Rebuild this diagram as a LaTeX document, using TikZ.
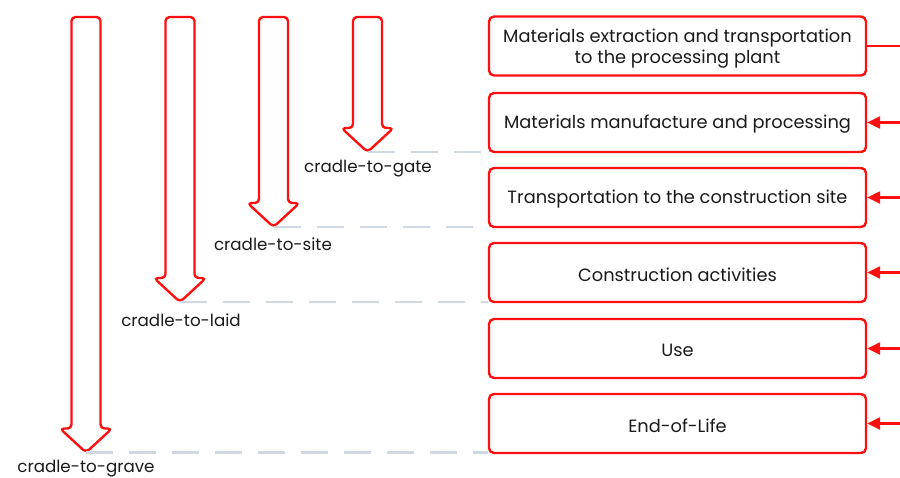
\documentclass[tikz,border=0pt]{standalone}
\usepackage{fontspec}
\setmainfont{Poppins}
\usetikzlibrary{arrows.meta}
\definecolor{redline}{HTML}{FF1010}
\definecolor{dashgrey}{HTML}{CFD7E1}
\definecolor{txt}{HTML}{1A1A1A}
\begin{document}
\begin{tikzpicture}[x=1pt,y=-1pt,
  stage/.style={draw=redline, line width=2.4pt, rounded corners=5pt, minimum width=377pt, minimum height=59pt, inner sep=0pt},
  stagetext/.style={align=center, text=txt, font=\fontsize{17.8}{21.5}\selectfont, inner sep=0pt},
  blockarr/.style={draw=redline, line width=2.4pt, rounded corners=4pt, line join=round},
  scope label/.style={text=txt, font=\fontsize{16.7}{20}\selectfont, inner sep=0pt},
  sep/.style={draw=dashgrey, line width=2.4pt, dash pattern=on 27pt off 16pt},
  feed/.style={draw=redline, line width=2.4pt, -{Triangle[length=13pt,width=12pt]}}
]
\useasboundingbox (0,0) rectangle (900,477);
% stages
\node[stage] (s1) at (677.5,46) {};
\node[stage] (s2) at (677.5,122.5) {};
\node[stage] (s3) at (677.5,197.5) {};
\node[stage] (s4) at (677.5,272.5) {};
\node[stage] (s5) at (677.5,348.5) {};
\node[stage] (s6) at (677.5,423.5) {};
\node[stagetext] (t1) at ([yshift=-2.5pt]s1.center) {Materials extraction and transportation\\to the processing plant};
\node[stagetext] (t2) at ([yshift=-2pt]s2.center) {Materials manufacture and processing};
\node[stagetext] (t3) at ([yshift=-2pt]s3.center) {Transportation to the construction site};
\node[stagetext] (t4) at ([yshift=-2pt]s4.center) {Construction activities};
\node[stagetext] (t5) at ([yshift=-2pt]s5.center) {Use};
\node[stagetext] (t6) at ([yshift=-2pt]s6.center) {End-of-Life};
% right-side feed lines
\coordinate (e1) at (902,46);
\coordinate (e2) at (902,122.5);
\coordinate (e3) at (902,197.5);
\coordinate (e4) at (902,272.5);
\coordinate (e5) at (902,348.5);
\coordinate (e6) at (902,423.5);
\draw[draw=redline, line width=2.4pt] (e1) -- (s1.east);
\draw[feed] (e2) -- (s2.east);
\draw[feed] (e3) -- (s3.east);
\draw[feed] (e4) -- (s4.east);
\draw[feed] (e5) -- (s5.east);
\draw[feed] (e6) -- (s6.east);
% block arrows
\newcommand\blockarrow[4]{%
  \draw[blockarr] (#1-14.5,#2) -- (#1-14.5,#3-24) -- (#1-26,#3-24) -- (#1,#3) -- (#1+26,#3-24) -- (#1+14.5,#3-24) -- (#1+14.5,#2) -- cycle;
  \coordinate (#4) at (#1,#3);}
\blockarrow{86}{17}{452.5}{tgrave}
\blockarrow{180}{17}{302}{tlaid}
\blockarrow{273.5}{17}{227}{tsite}
\blockarrow{367.5}{17}{152}{tgate}
% dashed separators
\draw[sep] (tgate) -- (tgate -| s2.west);
\draw[sep] (tsite) -- (tsite -| s3.west);
\draw[sep] (tlaid) -- (tlaid -| s4.west);
\draw[sep] (tgrave) -- (tgrave -| s6.west);
% labels
\node[scope label] (lgate) at (368,169) {cradle-to-gate};
\node[scope label] (lsite) at (273,244) {cradle-to-site};
\node[scope label] (llaid) at (181,320) {cradle-to-laid};
\node[scope label] (lgrave) at (86,468.5) {cradle-to-grave};
\end{tikzpicture}
\end{document}
